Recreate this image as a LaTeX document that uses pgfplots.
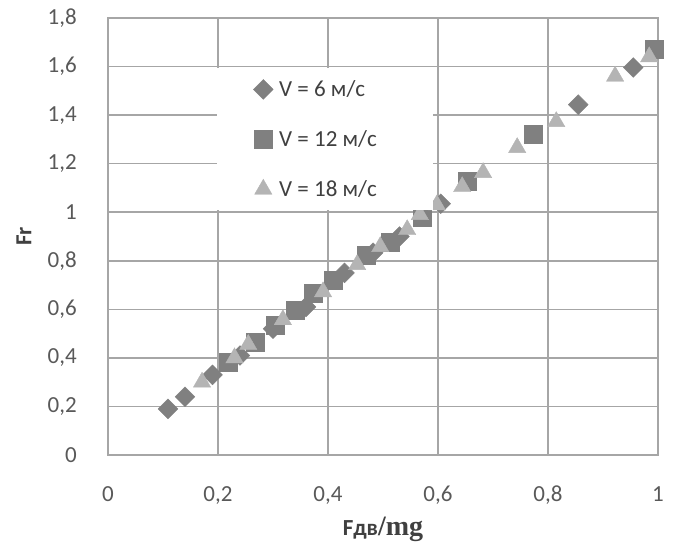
\documentclass[border=0pt]{standalone}
\usepackage{pgfplots}
\pgfplotsset{compat=1.18}
\usepackage{fontspec}
\setmainfont{Carlito}
\newfontfamily\serifbf{Liberation Serif}
\definecolor{gridc}{HTML}{A6A6A6}
\definecolor{tickc}{HTML}{595959}
\definecolor{labc}{HTML}{404040}
\definecolor{darkm}{HTML}{808080}
\definecolor{lightm}{HTML}{B4B4B4}
\begin{document}
\begin{tikzpicture}
\begin{axis}[
  scale only axis, width=550bp, height=437bp,
  xmin=0, xmax=1, ymin=0, ymax=1.8,
  xtick={0,0.2,0.4,0.6,0.8,1}, ytick={0,0.2,0.4,0.6,0.8,1,1.2,1.4,1.6,1.8},
  grid=major, major grid style={gridc, line width=1.6bp},
  axis line style={gridc, line width=1.6bp},
  tick style={draw=none},
  /pgf/number format/use comma, /pgf/number format/assume math mode=true,
  /pgf/number format/fixed, /pgf/number format/precision=1,
  ticklabel style={font=\fontsize{23bp}{27bp}\selectfont, text=tickc},
  yticklabel style={anchor=east, inner sep=0pt, xshift=-31bp},
  xticklabel style={anchor=north, inner sep=0pt, yshift=-31bp},
  xlabel={{\bfseries Fдв}{\serifbf\bfseries\fontsize{28bp}{32bp}\selectfont /mg}},
  ylabel={\bfseries Fr},
  label style={font=\fontsize{23bp}{27bp}\selectfont, text=labc},
  xlabel style={at={([yshift=-74bp]axis description cs:0.5,0)}, anchor=center},
  ylabel style={at={([xshift=-84bp]axis description cs:0,0.5)}, anchor=center},
  legend cell align=left,
  legend image code/.code={\draw[#1] plot coordinates {(0bp,0bp)};},
  legend style={at={(axis cs:0.198,1.6)}, anchor=north west, draw=none, fill=white,
    font=\fontsize{23bp}{27bp}\selectfont, text=labc,
    minimum width=216bp, minimum height=142bp, yshift=-1bp,
    nodes={inner sep=0pt, minimum width=0pt, minimum height=0pt},
    row sep=31bp, column sep=6bp},
]
\addplot[only marks, mark=square*, mark options={rotate=45, draw=darkm, fill=darkm}, mark size=7bp] coordinates {
(0.109,0.19) (0.14,0.24) (0.19,0.33) (0.24,0.41) (0.30,0.52) (0.36,0.61)
(0.43,0.75) (0.482,0.833) (0.53,0.90) (0.605,1.035) (0.855,1.443) (0.955,1.596)
};
\addlegendentry{V = 6 м/с\hspace*{20bp}}
\addplot[only marks, mark=square*, mark options={draw=darkm, fill=darkm}, mark size=9bp] coordinates {
(0.218,0.384) (0.267,0.466) (0.304,0.536) (0.34,0.598) (0.373,0.668) (0.409,0.72)
(0.47,0.825) (0.513,0.877) (0.571,0.981) (0.653,1.126) (0.773,1.32) (0.993,1.67)
};
\addlegendentry{V = 12 м/с\hspace*{20bp}}
\addplot[only marks, mark=triangle*, mark options={draw=lightm, fill=lightm}, mark size=10bp] coordinates {
(0.171,0.30) (0.23,0.40) (0.255,0.455) (0.318,0.557) (0.391,0.672) (0.453,0.784)
(0.495,0.858) (0.544,0.928) (0.567,0.99) (0.598,1.03) (0.644,1.105) (0.682,1.163)
(0.744,1.266) (0.815,1.373) (0.922,1.56) (0.984,1.64)
};
\addlegendentry{V = 18 м/с\hspace*{20bp}}
\coordinate (sw) at (rel axis cs:0,0);
\coordinate (ne) at (rel axis cs:1,1);
\end{axis}
\path[use as bounding box] ([shift={(-108bp,-94bp)}]sw) rectangle ([shift={(16bp,18bp)}]ne);
\end{tikzpicture}
\end{document}
